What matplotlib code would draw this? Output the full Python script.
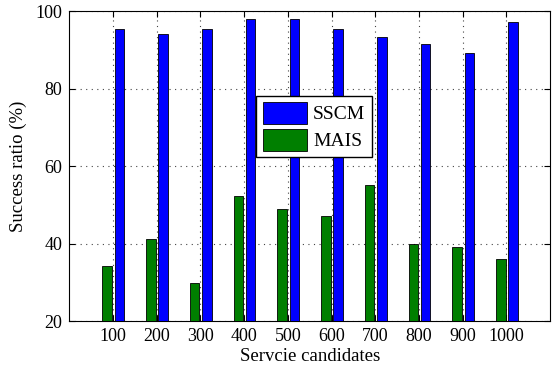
import matplotlib
matplotlib.use("Agg")
import matplotlib.pyplot as plt
import numpy as np

plt.rcParams['font.family'] = ['Liberation Serif', 'DejaVu Serif']

candidates = ['100', '200', '300', '400', '500', '600', '700', '800', '900', '1000']
sscm = [95.3, 94.2, 95.3, 98.1, 98.1, 95.3, 93.4, 91.4, 89.1, 97.1]
mais = [34.2, 41.2, 29.9, 52.3, 48.9, 47.1, 55.2, 40.0, 39.1, 36.1]

x = np.arange(1, len(candidates) + 1)
w = 0.22

fig = plt.figure(figsize=(5.53, 3.72), dpi=100)
ax = fig.add_axes([0.125, 0.137, 0.87, 0.833])

ax.bar(x + 0.15, sscm, w, color='#0000ff', edgecolor='black', linewidth=0.6, label='SSCM', zorder=3)
ax.bar(x - 0.13, mais, w, color='#007f00', edgecolor='black', linewidth=0.6, label='MAIS', zorder=3)

ax.set_xlim(0, 11)
ax.set_ylim(20, 100)
ax.set_xticks(x)
ax.set_xticklabels(candidates)
ax.set_yticks([20, 40, 60, 80, 100])
ax.tick_params(direction='in', labelsize=13, length=4, top=True, right=True, pad=5)
ax.grid(True, linestyle=(0, (1, 4)), color='#444444', linewidth=0.8, zorder=0)
ax.set_xlabel('Servcie candidates', fontsize=13.5, labelpad=2)
ax.set_ylabel('Success ratio (%)', fontsize=13.5, labelpad=6)

leg = ax.legend(loc='center', bbox_to_anchor=(0.509, 0.628), fontsize=14, fancybox=False,
                edgecolor='black', framealpha=1, handlelength=2.3, handleheight=1.3,
                borderpad=0.35, labelspacing=0.3, handletextpad=0.3)
leg.get_frame().set_linewidth(1.0)

fig.savefig('out.png', dpi=100)
